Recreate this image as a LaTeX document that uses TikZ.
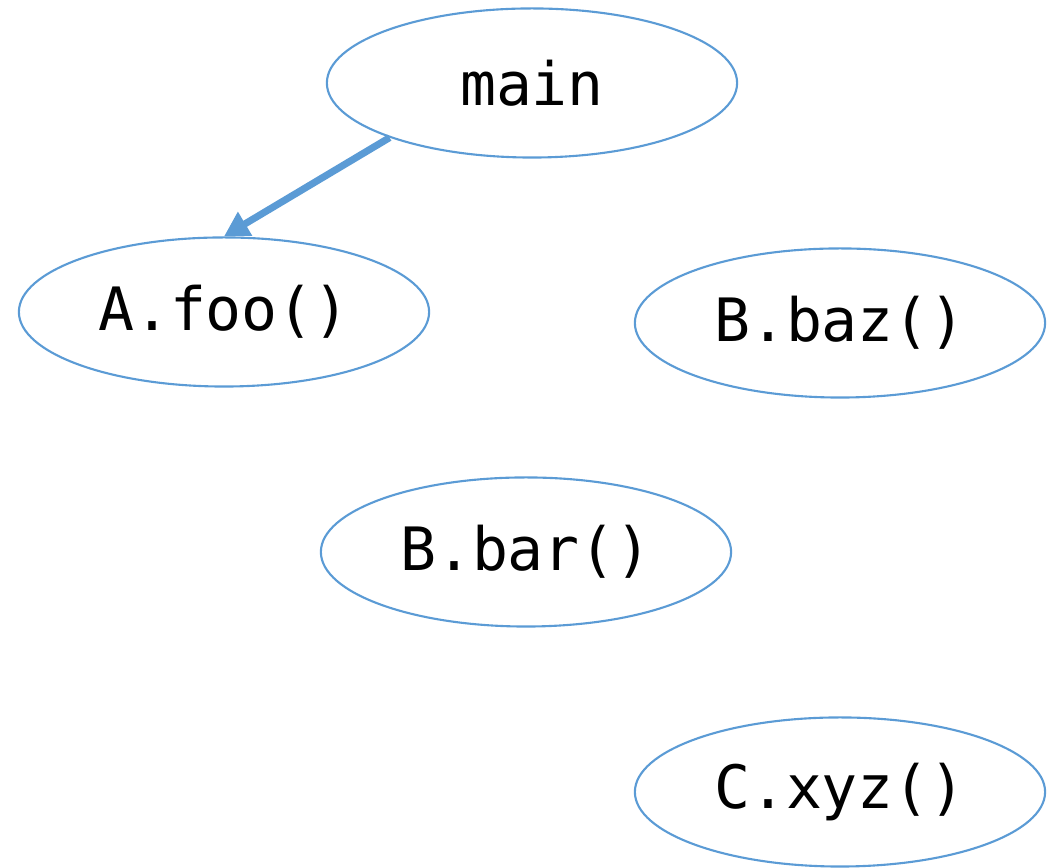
\documentclass[tikz,border=0pt]{standalone}
\usepackage{fontspec}
\setmonofont{DejaVu Sans Mono}
\usepackage{tikz}
\usetikzlibrary{shapes.geometric, arrows.meta}
\definecolor{cgblue}{HTML}{5B9BD5}

\tikzset{
  callnode/.style={ellipse, draw=cgblue, line width=0.6pt, minimum width=4.1cm,
    minimum height=1.49cm, inner sep=0pt, font=\ttfamily\fontsize{17}{20}\selectfont},
  callarrow/.style={cgblue, line width=2pt, -{Triangle[length=7pt, width=7.5pt]}}
}

\begin{document}
\begin{tikzpicture}[x=0.01cm, y=-0.01cm]
  \useasboundingbox (0,0) rectangle (1047,868);
  \node[callnode] (main) at (532,83) {main};
  \node[callnode] (foo) at (224,312) {A.foo()};
  \node[callnode] (baz) at (840,323) {B.baz()};
  \node[callnode] (bar) at (526,552) {B.bar()};
  \node[callnode] (xyz) at (840,792) {C.xyz()};
  \draw[callarrow] (main.201) -- (foo.north);
\end{tikzpicture}
\end{document}
